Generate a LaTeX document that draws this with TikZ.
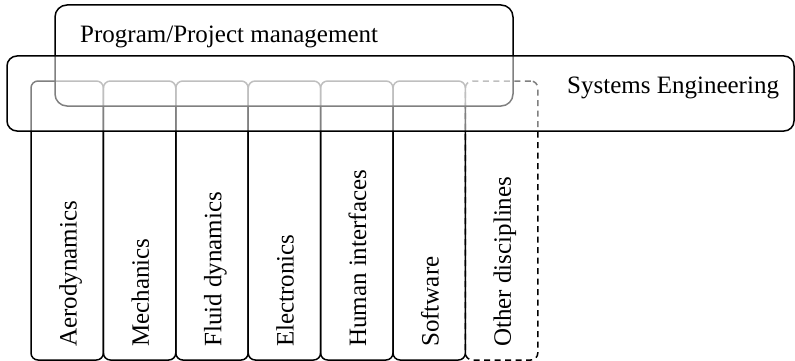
\documentclass[tikz,border=0pt]{standalone}
\usepackage{fontspec}
\setmainfont{Liberation Serif}
\begin{document}
\begin{tikzpicture}[x=1pt,y=-1pt,
  frame/.style={draw=black, line width=1.5pt},
  discbox/.style={frame, rounded corners=7pt, minimum width=72.4pt, minimum height=279pt, inner sep=0pt},
  veil/.style={frame, fill=white, fill opacity=0.5, draw opacity=1, inner sep=0pt},
  label/.style={font=\fontsize{25}{30}\selectfont, inner sep=0pt},
  vlabel/.style={label, rotate=90, anchor=base west}
]
\useasboundingbox (0,0) rectangle (795,361);

% discipline columns
\foreach \i/\name/\txt in {0/aero/Aerodynamics, 1/mech/Mechanics, 2/fluid/Fluid dynamics,
                           3/elec/Electronics, 4/human/Human interfaces, 5/soft/Software}{
  \node[discbox] (\name) at ({31+72.4*\i+36.2}, 220.5) {};
  \node[vlabel] (\name-t) at ({31+72.4*\i+36.2+9.3}, 347) {\txt};
}
\node[discbox, dash pattern=on 6pt off 4.5pt] (other) at ({31+72.4*6+36.2}, 220.5) {};
\node[vlabel] (other-t) at ({31+72.4*6+36.2+9.3}, 347) {Other disciplines};

% management layer
\node[veil, rounded corners=12pt, minimum width=458pt, minimum height=101pt] (pm) at (284, 55.5) {};
\node[label, anchor=base west] (pm-t) at (80, 43) {Program/Project management};

% systems engineering layer
\node[veil, rounded corners=10pt, minimum width=787pt, minimum height=75pt] (se) at (400.5, 93.5) {};
\node[label, anchor=base west] (se-t) at (567, 93) {Systems Engineering};
\end{tikzpicture}
\end{document}
